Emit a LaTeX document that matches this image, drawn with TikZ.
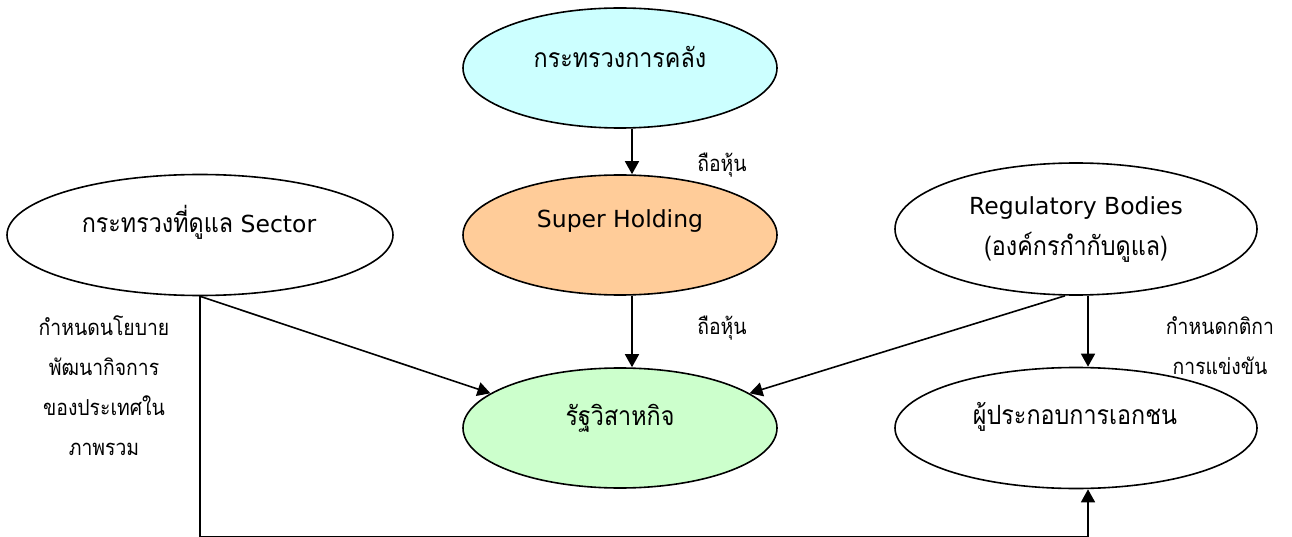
\documentclass[tikz,border=0pt]{standalone}
\usepackage{fontspec}
\setmainfont{DejaVu Sans}
\newfontfamily\thaifont[Script=Thai,FakeStretch=0.88]{Loma}
\usetikzlibrary{shapes.geometric,arrows.meta,calc}
\definecolor{cyanfill}{HTML}{CCFFFF}
\definecolor{orangefill}{HTML}{FFCC99}
\definecolor{greenfill}{HTML}{CCFFCC}
\begin{document}
\begin{tikzpicture}[x=1pt,y=-1pt,
  ell/.style={draw=black,line width=1.6pt,ellipse,inner sep=0pt,minimum width=#1},
  ell/.default=314pt,
  txt/.style={anchor=base,inner sep=0pt,font=\fontsize{23.5}{28}\selectfont},
  th/.style={font=\thaifont\fontsize{26.5}{30}\selectfont},
  lbl/.style={anchor=base,inner sep=0pt,align=center,font=\thaifont\fontsize{22}{40}\selectfont},
  arr/.style={line width=1.6pt,-{Triangle[length=13pt,width=14pt]}}]
\useasboundingbox (0,0) rectangle (1292,537);
% ellipses
\node[ell=314pt,minimum height=120pt,fill=cyanfill] (mof) at (620,68) {};
\node[ell=314pt,minimum height=120pt,fill=orangefill] (sh) at (620,235) {};
\node[ell=314pt,minimum height=120pt,fill=greenfill] (soe) at (620,428) {};
\node[ell=386pt,minimum height=121pt,fill=white] (sector) at (200,235) {};
\node[ell=362pt,minimum height=132pt,fill=white] (reg) at (1076,229) {};
\node[ell=362pt,minimum height=121pt,fill=white] (priv) at (1076,428) {};
% texts
\node[txt,th] (moft) at (620,68) {กระทรวงการคลัง};
\node[txt] (sht) at (620,228) {Super Holding};
\node[txt,th] (soet) at (620,425) {รัฐวิสาหกิจ};
\node[txt] (sectort) at (199,233) {{\thaifont\fontsize{26.5}{30}\selectfont กระทรวงที่ดูแล} Sector};
\node[txt] (regt1) at (1076,215) {Regulatory Bodies};
\node[txt,th] (regt2) at (1076,255) {(องค์กรกำกับดูแล)};
\node[txt,th] (privt) at (1075,424) {ผู้ประกอบการเอกชน};
% labels
\node[lbl] (l1) at (722,172) {ถือหุ้น};
\node[lbl] (l2) at (722,334) {ถือหุ้น};
\node[lbl,anchor=north] (l3) at (104,315) {กำหนดนโยบาย\\พัฒนากิจการ\\ของประเทศใน\\ภาพรวม};
\node[lbl,anchor=north] (l4) at (1220,316) {กำหนดกติกา\\การแข่งขัน};
% connectors
\draw[arr] ($(mof.south)+(12,0)$) -- ($(sh.north)+(12,0)$);
\draw[arr] ($(sh.south)+(12,0)$) -- ($(soe.north)+(12,0)$);
\draw[arr] (sector.south) -- (soe.165);
\draw[arr] ($(reg.south)+(-11,0)$) -- (soe.15);
\draw[arr] ($(reg.south)+(12,0)$) -- ($(priv.north)+(12,0)$);
\draw[arr] (sector.south) -- ++(0,240) -| ($(priv.south)+(12,0)$);
\end{tikzpicture}
\end{document}
